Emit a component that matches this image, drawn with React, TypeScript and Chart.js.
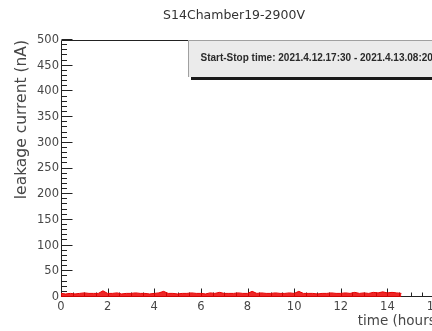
import React, { useEffect, useRef } from "react";
import { Chart, registerables } from "chart.js";

Chart.register(...registerables);

const TITLE = "S14Chamber19-2900V";
const X_TITLE = "time (hours)";
const Y_TITLE = "leakage current (nA)";
const INFO_TEXT = "Start-Stop time: 2021.4.12.17:30 - 2021.4.13.08:20";

const X_TICKS = [0, 2, 4, 6, 8, 10, 12, 14, 16];
const Y_TICKS = [0, 50, 100, 150, 200, 250, 300, 350, 400, 450, 500];
const X_MIN = 0;
const X_MAX = 16.3;
const Y_MIN = 0;
const Y_MAX = 500;

const TIME_H = [
  0, 0.2, 0.4, 0.6, 0.8, 1.0, 1.2, 1.4, 1.6, 1.8,
  2.0, 2.2, 2.4, 2.6, 2.8, 3.0, 3.2, 3.4, 3.6, 3.8,
  4.0, 4.2, 4.4, 4.6, 4.8, 5.0, 5.2, 5.4, 5.6, 5.8,
  6.0, 6.2, 6.4, 6.6, 6.8, 7.0, 7.2, 7.4, 7.6, 7.8,
  8.0, 8.2, 8.4, 8.6, 8.8, 9.0, 9.2, 9.4, 9.6, 9.8,
  10.0, 10.2, 10.4, 10.6, 10.8, 11.0, 11.2, 11.4, 11.6, 11.8,
  12.0, 12.2, 12.4, 12.6, 12.8, 13.0, 13.2, 13.4, 13.6, 13.8,
  14.0, 14.2, 14.4, 14.6,
];

const CURRENT_NA = [
  7, 6, 7, 6, 7, 8, 7, 7, 7, 12,
  7, 7, 8, 6, 7, 7, 8, 7, 7, 6,
  7, 8, 11, 7, 7, 6, 7, 7, 8, 7,
  7, 6, 8, 7, 9, 7, 7, 7, 8, 7,
  7, 11, 7, 8, 7, 7, 8, 7, 7, 8,
  7, 11, 7, 7, 7, 6, 7, 7, 8, 7,
  7, 8, 7, 9, 7, 8, 7, 9, 8, 10,
  8, 9, 8, 7,
];

const FONT = "'DejaVu Sans', 'Liberation Sans', Arial, sans-serif";
const TEXT_COLOR = "#474747";

const axisPlugin = {
  id: "rootAxes",
  beforeDatasetsDraw(chart: any) {
    const { ctx, chartArea } = chart;
    const xs = chart.scales.x;
    const ys = chart.scales.y;
    const L = Math.round(chartArea.left) + 0.5;
    const R = Math.round(chartArea.right) - 0.5;
    const T = Math.round(chartArea.top) + 0.5;
    const B = Math.round(chartArea.bottom) - 0.5;
    ctx.save();
    ctx.strokeStyle = "#222";
    ctx.lineWidth = 1;
    ctx.beginPath();
    ctx.moveTo(L, T);
    ctx.lineTo(R, T);
    ctx.lineTo(R, B);
    ctx.lineTo(L, B);
    ctx.closePath();
    ctx.stroke();
    ctx.beginPath();
    for (let v = Y_MIN; v <= Y_MAX + 1e-6; v += 10) {
      const py = Math.round(ys.getPixelForValue(v)) - 0.5;
      const major = Y_TICKS.includes(v);
      ctx.moveTo(L, py);
      ctx.lineTo(L + (major ? 11 : 5.5), py);
    }
    for (let v = X_MIN; v <= X_MAX + 1e-6; v += 0.5) {
      const px = Math.round(xs.getPixelForValue(v)) + 0.5;
      const major = X_TICKS.includes(Math.round(v * 10) / 10);
      ctx.moveTo(px, B);
      ctx.lineTo(px, B - (major ? 8 : 4));
    }
    ctx.stroke();
    ctx.restore();
  },
};

const infoBoxPlugin = {
  id: "infoBox",
  afterDraw(chart: any) {
    const { ctx, chartArea, width } = chart;
    const x0 = 188;
    const y0 = Math.round(chartArea.top);
    const y1 = 77;
    ctx.save();
    ctx.fillStyle = "#1a1a1a";
    ctx.fillRect(x0 + 3, y1, width - x0, 3);
    ctx.fillStyle = "#ebebeb";
    ctx.fillRect(x0, y0, width - x0, y1 - y0);
    ctx.strokeStyle = "#a0a0a0";
    ctx.lineWidth = 1;
    ctx.beginPath();
    ctx.moveTo(x0 + 0.5, y1);
    ctx.lineTo(x0 + 0.5, y0 + 0.5);
    ctx.lineTo(width, y0 + 0.5);
    ctx.stroke();
    ctx.fillStyle = "#2a2a2a";
    ctx.font = "bold 10px 'Liberation Sans', Arial, sans-serif";
    ctx.textAlign = "left";
    ctx.textBaseline = "middle";
    ctx.fillText(INFO_TEXT, 200.5, 58.5);
    ctx.restore();
  },
};

export default function App() {
  const ref = useRef<HTMLCanvasElement | null>(null);

  useEffect(() => {
    if (!ref.current) return;
    const chart = new Chart(ref.current, {
      type: "line",
      data: {
        datasets: [
          {
            data: TIME_H.map((t, i) => ({ x: t, y: CURRENT_NA[i] })),
            xAxisID: "x",
            yAxisID: "y",
            borderColor: "#e80000",
            backgroundColor: "rgba(235,0,0,0.85)",
            fill: "origin",
            borderWidth: 1,
            pointRadius: 0,
            tension: 0,
          } as any,
        ],
      },
      options: {
        responsive: false,
        animation: false,
        events: [],
        layout: { padding: 0 },
        plugins: {
          legend: { display: false },
          tooltip: { enabled: false },
          title: {
            display: true,
            text: TITLE,
            color: "#333",
            font: { family: FONT, size: 12.5, weight: "normal" as any },
            padding: { top: 8.5, bottom: 16.5 },
          },
        },
        scales: {
          x: {
            type: "linear",
            position: "bottom",
            min: X_MIN,
            max: X_MAX,
            afterBuildTicks: (s: any) => {
              s.ticks = X_TICKS.map((v) => ({ value: v }));
            },
            afterFit: (s: any) => {
              s.height = 34;
            },
            grid: { display: false, drawTicks: false },
            border: { display: false },
            ticks: {
              color: TEXT_COLOR,
              font: { family: FONT, size: 11.5 },
              padding: 3,
              maxRotation: 0,
              autoSkip: false,
            },
            title: {
              display: true,
              text: X_TITLE,
              align: "end",
              color: TEXT_COLOR,
              font: { family: FONT, size: 13.5 },
              padding: { top: 0, bottom: 1.5 },
            },
          },
          y: {
            type: "linear",
            position: "left",
            min: Y_MIN,
            max: Y_MAX,
            afterBuildTicks: (s: any) => {
              s.ticks = Y_TICKS.map((v) => ({ value: v }));
            },
            afterFit: (s: any) => {
              s.width = 61;
            },
            grid: { display: false, drawTicks: false },
            border: { display: false },
            ticks: {
              color: TEXT_COLOR,
              font: { family: FONT, size: 11.5 },
              padding: 2,
              autoSkip: false,
            },
            title: {
              display: true,
              text: Y_TITLE,
              align: "end",
              color: TEXT_COLOR,
              font: { family: FONT, size: 15.5 },
              padding: { top: 13, bottom: 0 },
            },
          },
          yR: {
            type: "linear",
            position: "right",
            display: true,
            afterFit: (s: any) => {
              s.width = 27;
            },
            grid: { display: false, drawTicks: false },
            border: { display: false },
            ticks: { display: false },
          },
        },
      },
      plugins: [axisPlugin, infoBoxPlugin],
    });
    return () => chart.destroy();
  }, []);

  return (
    <div
      style={{
        position: "fixed",
        left: 0,
        top: 0,
        width: 432,
        height: 331,
        overflow: "hidden",
        background: "#fff",
      }}
    >
      <canvas ref={ref} width={468} height={331} style={{ display: "block" }} />
    </div>
  );
}
